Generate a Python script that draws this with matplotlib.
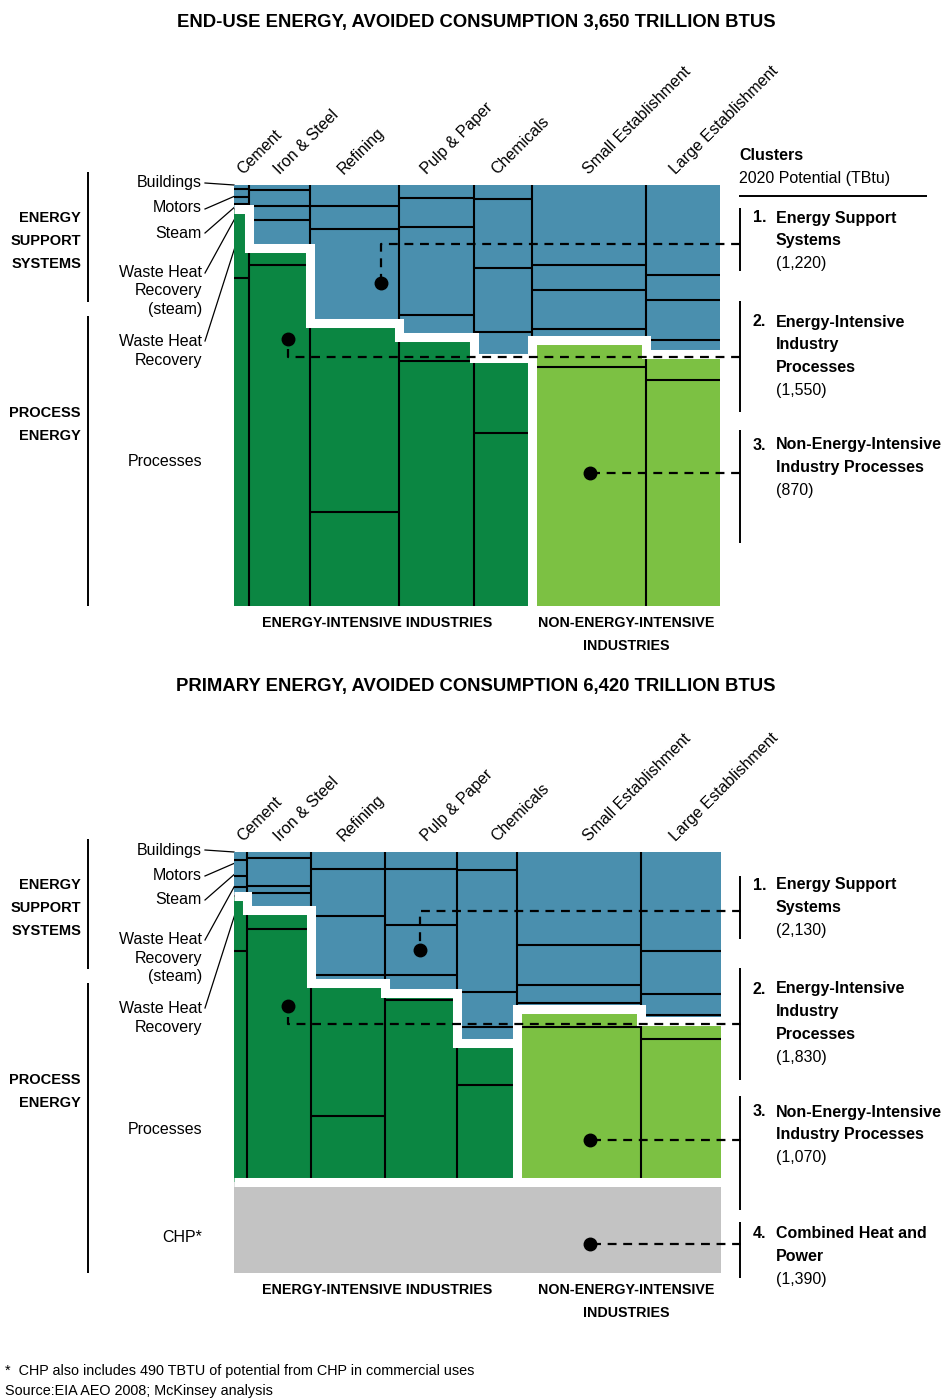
import matplotlib
matplotlib.use("Agg")
from matplotlib import pyplot as plt
import numpy as np

plt.rcParams["font.family"] = ["Liberation Sans", "DejaVu Sans"]

sectors = ["Cement", "Iron & Steel", "Refining", "Pulp & Paper", "Chemicals",
           "Small Establishment", "Large Establishment"]
n_intensive = 5  # first five sectors are energy-intensive

# column widths: sector potential, TBtu
enduse_width = [110, 460, 670, 565, 435, 855, 555]
primary_width = [135, 660, 765, 745, 620, 1280, 825]

# share of each column in %, top to bottom
# support = buildings / motors / steam / waste heat (steam)
# process = waste heat recovery / processes
enduse_support = [
    [1.0, 1.9, 1.7, 1.1],
    [1.2, 3.8, 3.3, 6.7],
    [5.0, 5.5, 22.2],
    [3.1, 6.9, 20.9, 5.3],
    [3.3, 16.4, 15.2, 6.1],
    [19.0, 5.9, 9.3, 2.7],
    [21.4, 5.9, 9.5, 3.3],
]
enduse_process = [
    [16.3, 78.0],
    [4.0, 81.0],
    [45.0, 22.3],
    [5.6, 58.2],
    [17.9, 41.1],
    [6.3, 56.8],
    [6.2, 53.7],
]
primary_support = [
    [2.4, 4.8, 3.3, 2.7],
    [1.8, 8.6, 2.1, 5.1],
    [5.1, 14.3, 17.9, 2.4],
    [5.1, 17.0, 15.2, 5.4],
    [5.4, 36.9, 10.7, 4.8],
    [28.3, 11.9, 5.7, 1.8],
    [30.1, 12.8, 6.5, 1.8],
]
primary_process = [
    [16.7, 70.1],
    [5.7, 76.7],
    [40.2, 20.1],
    [2.1, 55.2],
    [12.8, 29.4],
    [5.4, 46.9],
    [5.4, 43.4],
]

# clusters, 2020 potential (TBtu)
enduse_clusters = [1220, 1550, 870]
primary_clusters = [2130, 1830, 1070, 1390]

# callout dots: (x in TBtu, dot y share, y level of the dashed run)
enduse_callouts = [(1104, 0.233, 0.140), (406, 0.366, 0.409), (2674, 0.684, 0.684)]
primary_callouts = [(1921, 0.297, 0.179), (558, 0.467, 0.521), (3677, 0.873, 0.873),
                    (3677, 1.188, 1.188)]

blue = "#4a8fae"
dark_green = "#0b8642"
light_green = "#7cc143"
gray = "#c3c3c3"


def draw_panel(ax, widths, support, process, callouts, chp=None):
    total = sum(widths)
    lefts = np.concatenate([[0], np.cumsum(widths)[:-1]])
    rights = lefts + np.array(widths)
    chp_h = chp / total if chp else 0

    for i in range(len(widths)):
        green = dark_green if i < n_intensive else light_green
        segs = np.array(support[i] + process[i]) / 100
        colors = [blue] * len(support[i]) + [green] * len(process[i])
        tops = np.concatenate([[0], np.cumsum(segs)[:-1]])
        ax.bar([lefts[i]] * len(segs), segs, width=widths[i], bottom=tops,
               align="edge", color=colors, lw=0)
        ax.hlines(tops[1:], lefts[i], rights[i], color="black", lw=1.5)
    ax.vlines(lefts[1:], 0, 1, color="black", lw=1.5)

    if chp:
        ax.bar(0, chp_h, width=total, bottom=1, align="edge", color=gray, lw=0)
        ax.hlines(1, 0, total, color="white", lw=6.5)

    # white step between support systems and process energy
    s = [sum(v) / 100 for v in support]
    xs, ys = [], []
    for i in range(len(widths)):
        xs += [lefts[i], rights[i]]
        ys += [s[i], s[i]]
    ax.plot(xs, ys, color="white", lw=6.5, solid_joinstyle="miter",
            solid_capstyle="butt")
    ax.vlines(lefts[n_intensive], s[n_intensive - 1], 1, color="white", lw=6.5)

    ax.set_xlim(0, total)
    ax.set_ylim(1 + chp_h, 0)
    ax.axis("off")

    # callouts to the cluster brackets
    xr = total * 1.041
    for x, y, level in callouts:
        ax.plot([xr, x, x], [level, level, y], color="black", lw=1.6,
                ls=(0, (4, 3)), clip_on=False, zorder=5)
        ax.plot(x, y, "o", color="black", ms=9, clip_on=False, zorder=6)


fig = plt.figure(figsize=(9.48, 13.99), dpi=100)
W, H = 948, 1399

ax1 = fig.add_axes([234 / W, (H - 606) / H, 486 / W, 421 / H])
draw_panel(ax1, enduse_width, enduse_support, enduse_process, enduse_callouts)

ax2 = fig.add_axes([234 / W, (H - 1273) / H, 487 / W, 421 / H])
draw_panel(ax2, primary_width, primary_support, primary_process, primary_callouts,
           chp=primary_clusters[3])

# text layer in pixel units
ov = fig.add_axes([0, 0, 1, 1], zorder=-1)
ov.set_xlim(0, W)
ov.set_ylim(H, 0)
ov.axis("off")

titles = ["END-USE ENERGY, AVOIDED CONSUMPTION 3,650 TRILLION BTUS",
          "PRIMARY ENERGY, AVOIDED CONSUMPTION 6,420 TRILLION BTUS"]
sector_x = [245, 282, 346, 429, 499, 591, 678]
cluster_names = [["Energy Support", "Systems"],
                 ["Energy-Intensive", "Industry", "Processes"],
                 ["Non-Energy-Intensive", "Industry Processes"],
                 ["Combined Heat and", "Power"]]

for p, dy in enumerate([0, 667]):
    ov.text(476, 22 + dy * 0.996, titles[p], ha="center", va="center",
            fontsize=13.3, fontweight="bold")
    for name, x in zip(sectors, sector_x):
        ov.text(x, 177 + dy, name, rotation=45, rotation_mode="anchor",
                ha="left", va="bottom", fontsize=11.5)

    # segment names on the left
    left_labels = [("Buildings", 183), ("Motors", 208), ("Steam", 233),
                   ("Waste Heat\nRecovery\n(steam)", 291),
                   ("Waste Heat\nRecovery", 351), ("Processes", 462)]
    for txt, y in left_labels:
        ov.text(202, y + dy, txt, ha="right", va="center", fontsize=11.5,
                linespacing=1.3)
    leaders = [((205, 183), (234, 185)), ((205, 209), (235, 196)),
               ((205, 233), (237, 205)), ((205, 273), (239, 211)),
               ((205, 341), (243, 222))]
    for (x0, y0), (x1, y1) in leaders:
        ov.plot([x0, x1], [y0 + dy, y1 + dy], color="black", lw=0.9)

    ov.vlines(88, 172 + dy, 302 + dy, color="black", lw=1.4)
    ov.vlines(88, 316 + dy, 606 + dy if p == 0 else 1273, color="black", lw=1.4)
    ov.text(81, 241 + dy, "ENERGY\nSUPPORT\nSYSTEMS", ha="right", va="center",
            fontsize=10.5, fontweight="bold", linespacing=1.78)
    ov.text(81, 424.5 + dy, "PROCESS\nENERGY", ha="right", va="center",
            fontsize=10.5, fontweight="bold", linespacing=1.78)

    base = 623 if p == 0 else 1290
    ov.text(377, base, "ENERGY-INTENSIVE INDUSTRIES", ha="center", va="center",
            fontsize=10.3, fontweight="bold")
    ov.text(626, base + 11.5, "NON-ENERGY-INTENSIVE\nINDUSTRIES", ha="center",
            va="center", fontsize=10.3, fontweight="bold", linespacing=1.75)

ov.text(202, 1237, "CHP*", ha="right", va="center", fontsize=11.5)

# cluster brackets and labels
ov.text(739, 155, "Clusters", ha="left", va="center", fontsize=11.5,
        fontweight="bold")
ov.text(739, 178, "2020 Potential (TBtu)", ha="left", va="center", fontsize=11.5)
ov.hlines(196, 739, 927, color="black", lw=1.4)

enduse_brackets = [(208, 271, 218), (301, 412, 322), (430, 543, 445)]
primary_brackets = [(876, 939, 885), (968, 1080, 989), (1096, 1210, 1112),
                    (1222, 1278, 1234)]
for brackets, values in [(enduse_brackets, enduse_clusters),
                         (primary_brackets, primary_clusters)]:
    for k, ((y0, y1, yt), v) in enumerate(zip(brackets, values)):
        ov.vlines(740, y0, y1, color="black", lw=1.4)
        ov.text(753, yt, f"{k + 1}.", ha="left", va="center", fontsize=11.5,
                fontweight="bold")
        lines = cluster_names[k]
        for j, line in enumerate(lines):
            ov.text(776, yt + 22.8 * j, line, ha="left", va="center",
                    fontsize=11.5, fontweight="bold")
        ov.text(776, yt + 22.8 * len(lines), f"({v:,})", ha="left", va="center",
                fontsize=11.5)

ov.text(5, 1371, "*  CHP also includes 490 TBTU of potential from CHP in commercial uses",
        ha="left", va="center", fontsize=10.4)
ov.text(5, 1391, "Source:EIA AEO 2008; McKinsey analysis", ha="left", va="center",
        fontsize=10.4)

fig.savefig("out.png", dpi=100)
